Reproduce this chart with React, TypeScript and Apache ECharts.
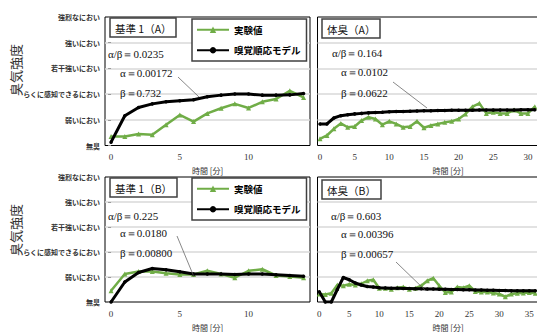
import React, { useEffect, useRef } from 'react';
import * as echarts from 'echarts';

const levelLabels = ['無臭', '弱いにおい', 'らくに感知できるにおい', '若干強いにおい', '強いにおい', '強烈なにおい'];

// 基準1 (A)
const exp1A = [0.35, 0.35, 0.45, 0.42, 0.81, 1.19, 0.93, 1.25, 1.45, 1.62, 1.46, 1.7, 1.81, 2.13, 1.87];
const model1A = [0.13, 1.16, 1.48, 1.62, 1.7, 1.74, 1.78, 1.9, 1.96, 2.0, 2.0, 1.96, 1.96, 1.97, 2.02];
// 体臭 (A)
const expBA = [0.26, 0.39, 0.65, 0.86, 0.71, 0.74, 0.97, 1.1, 1.03, 0.81, 0.94, 0.84, 0.71, 0.74, 0.94, 0.69,
  0.78, 0.84, 0.9, 0.94, 1.03, 1.23, 1.51, 1.64, 1.25, 1.29, 1.25, 1.25, 1.38, 1.25, 1.25, 1.51];
const modelBA = [0.84, 0.84, 1.07, 1.16, 1.2, 1.23, 1.25, 1.27, 1.28, 1.29, 1.31, 1.32, 1.32, 1.33, 1.34, 1.35,
  1.35, 1.36, 1.36, 1.37, 1.37, 1.37, 1.37, 1.38, 1.38, 1.38, 1.38, 1.38, 1.38, 1.39, 1.39, 1.39];
// 基準1 (B)
const exp1B = [0.45, 1.12, 1.22, 1.22, 1.15, 1.1, 1.1, 1.25, 1.12, 0.97, 1.25, 1.31, 1.06, 1.02, 0.97];
const model1B = [0.0, 0.8, 1.18, 1.34, 1.29, 1.21, 1.12, 1.12, 1.12, 1.1, 1.12, 1.12, 1.09, 1.06, 1.03];
// 体臭 (B)
const expBB = [0.32, 0.3, 0.35, 0.68, 0.65, 0.71, 0.68, 0.73, 0.85, 0.89, 0.55, 0.55, 0.51, 0.57, 0.6, 0.51,
  0.55, 0.65, 0.85, 0.95, 0.65, 0.38, 0.4, 0.6, 0.57, 0.65, 0.42, 0.4, 0.4, 0.36, 0.32, 0.21, 0.32, 0.35, 0.36, 0.38, 0.35];
const modelBB = [0.41, 0.0, 0.0, 0.5, 0.98, 0.89, 0.76, 0.68, 0.62, 0.6, 0.57, 0.56, 0.55, 0.55, 0.54, 0.54,
  0.53, 0.53, 0.52, 0.52, 0.51, 0.51, 0.5, 0.5, 0.49, 0.49, 0.48, 0.48, 0.47, 0.47, 0.46, 0.46, 0.45, 0.45, 0.45, 0.45, 0.45];

const ticksShort = [0, 5, 10];
const ticksLongA = [0, 5, 10, 15, 20, 25, 30];
const ticksLongB = [0, 5, 10, 15, 20, 25, 30, 35];

const panelTitles = ['基準 1（A）', '体臭（A）', '基準 1（B）', '体臭（B）'];
const params = [
  ['α/β＝0.0235', 'α＝0.00172', 'β＝0.732'],
  ['α/β＝0.164', 'α＝0.0102', 'β＝0.0622'],
  ['α/β＝0.225', 'α＝0.0180', 'β＝0.00800'],
  ['α/β＝0.603', 'α＝0.00396', 'β＝0.00657'],
];
const EXP = '実験値';
const MODEL = '嗅覚順応モデル';

const GREEN = '#70AD47';
const SERIF = '"Liberation Serif", "Times New Roman", serif';
const JP = '"Noto Sans CJK JP", sans-serif';

const toPts = (arr: number[]) => arr.map((v, i) => [i, v]);

export default function App() {
  const ref = useRef<HTMLDivElement>(null);
  useEffect(() => {
    if (!ref.current) return;
    const chart = echarts.init(ref.current, null, { renderer: 'svg' });

    const grids = [
      { left: 105, top: 17, width: 205, height: 128.5 },
      { left: 317.5, top: 17, width: 261, height: 128.5 },
      { left: 105, top: 177, width: 205, height: 130.5 },
      { left: 317.5, top: 177, width: 261, height: 130.5 },
    ];
    const xr = [
      { min: -0.44, max: 14.47, ticks: ticksShort },
      { min: -0.36, max: 37.3, ticks: ticksLongA },
      { min: -0.44, max: 14.47, ticks: ticksShort },
      { min: -0.3, max: 43.2, ticks: ticksLongB },
    ];
    const exps = [exp1A, expBA, exp1B, expBB];
    const models = [model1A, modelBA, model1B, modelBB];

    const series: any[] = [];
    for (let i = 0; i < 4; i++) {
      series.push({
        name: EXP, type: 'line', xAxisIndex: i, yAxisIndex: i, data: toPts(exps[i]),
        symbol: 'triangle', symbolSize: 5, showAllSymbol: true,
        itemStyle: { color: GREEN }, lineStyle: { color: GREEN, width: 2.5 }, z: 2,
      });
      series.push({
        name: MODEL, type: 'line', xAxisIndex: i, yAxisIndex: i, data: toPts(models[i]),
        symbol: 'circle', symbolSize: 3.5, showAllSymbol: true,
        itemStyle: { color: '#000' }, lineStyle: { color: '#000', width: 3 }, z: 3,
      });
    }

    const graphic: any[] = [];
    const yNameY = [70, 230];
    yNameY.forEach((y) => {
      graphic.push({
        type: 'text', x: 15, y, rotation: Math.PI / 2,
        style: { text: '臭気強度', font: `13px ${JP}`, fill: '#333', align: 'center', verticalAlign: 'middle' },
      });
    });
    const paramPos = [
      [[108, 54], [120, 73], [120, 93]],
      [[332, 53], [341, 72], [341, 93]],
      [[108, 216], [120, 233], [120, 253]],
      [[331, 216], [341, 234], [341, 254]],
    ];
    const leaders = [
      [178, 77, 199, 97],
      [393, 82, 427, 108],
      [177, 236, 194, 277],
      [396, 262, 426, 291],
    ];
    for (let i = 0; i < 4; i++) {
      params[i].forEach((t, j) => {
        graphic.push({
          type: 'text', x: paramPos[i][j][0], y: paramPos[i][j][1], z: 10,
          style: { text: t, font: `11px ${SERIF}`, fill: '#111', align: 'left', verticalAlign: 'middle' },
        });
      });
      const [x1, y1, x2, y2] = leaders[i];
      graphic.push({
        type: 'line', z: 10, shape: { x1, y1, x2, y2 },
        style: { stroke: '#555', lineWidth: 0.7 },
      });
    }

    const titlePos = [[110, 18], [322, 19], [110, 178], [322, 180]];

    chart.setOption({
      animation: false,
      backgroundColor: '#fff',
      title: panelTitles.map((t, i) => ({
        text: t, left: titlePos[i][0], top: titlePos[i][1],
        padding: [5, 5, 4, 5], borderColor: '#404040', borderWidth: 1.5, backgroundColor: '#fff',
        textStyle: { fontSize: 10.5, fontWeight: 'normal', color: '#111', fontFamily: JP },
      })),
      legend: [19, 178].map((top) => ({
        left: 192, top, orient: 'vertical',
        data: [EXP, MODEL],
        borderColor: '#404040', borderWidth: 1.5, backgroundColor: '#fff',
        padding: [6, 6, 6, 4], itemGap: 11, itemWidth: 32, itemHeight: 8,
        textStyle: { fontSize: 9.5, color: '#000', fontFamily: JP, fontWeight: 'bold' },
      })),
      grid: grids.map((g) => ({ ...g, show: true, borderColor: '#000', borderWidth: 1, backgroundColor: 'transparent' })),
      xAxis: xr.map((r, i) => ({
        type: 'value', gridIndex: i, min: r.min, max: r.max,
        axisLine: { show: false }, axisTick: { show: false }, splitLine: { show: false },
        axisLabel: { customValues: r.ticks, fontSize: 9, color: '#333', fontFamily: SERIF, margin: 7 },
        name: '時間 [分]', nameLocation: 'middle', nameGap: 21,
        nameTextStyle: { fontSize: 8, color: '#333', fontFamily: JP },
      })),
      yAxis: grids.map((_, i) => ({
        type: 'value', gridIndex: i, min: 0, max: 5, interval: 1,
        axisLine: { show: false },
        axisTick: { show: i % 2 === 0, length: 3, lineStyle: { color: '#999' } },
        splitLine: { show: true, showMinLine: false, showMaxLine: false, lineStyle: { color: '#d9d9d9', width: 1.5 } },
        axisLabel: {
          show: i % 2 === 0, fontSize: 7, color: '#333', fontFamily: JP, fontWeight: 'bold', margin: 5,
          formatter: (v: number) => levelLabels[Math.round(v)] ?? '',
        },
      })),
      series,
      graphic,
    });
    return () => chart.dispose();
  }, []);
  return (
    <div style={{ position: 'absolute', left: 0, top: 0, width: 537, height: 332, overflow: 'hidden' }}>
      <div ref={ref} style={{ width: 580, height: 332 }} />
    </div>
  );
}
